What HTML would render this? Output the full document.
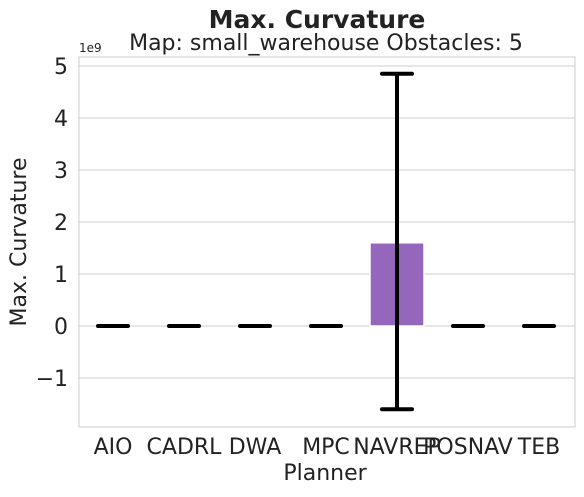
<!DOCTYPE html>
<html><head><meta charset="utf-8"><style>
body{margin:0;background:#fff;font-family:"Liberation Sans","DejaVu Sans",sans-serif;}
</style></head><body>
<svg width="584" height="492" xmlns="http://www.w3.org/2000/svg" id="chart" font-family="DejaVu Sans, Liberation Sans, sans-serif">
<text x="317" y="28" text-anchor="middle" font-size="25" font-weight="bold" fill="#222">Max. Curvature</text>
<text x="326" y="50" text-anchor="middle" font-size="22" fill="#222">Map: small_warehouse Obstacles: 5</text>
<text x="79" y="52" font-size="12" fill="#222">1e9</text>
<text x="325" y="480" text-anchor="middle" font-size="22" fill="#222">Planner</text>
<text transform="translate(26,242) rotate(-90)" text-anchor="middle" font-size="22" fill="#222">Max. Curvature</text>
<g id="grid"></g><g id="bars"></g><g id="err"></g><g id="ticks"></g>
<rect x="79" y="57" width="496" height="370" fill="none" stroke="#ccc" stroke-width="1"/>
</svg>
<script>
const categories=["AIO","CADRL","DWA","MPC","NAVREP","POSNAV","TEB"];
const values=[0,0,0,0,1.6,0,0];
const errLow=[0,0,0,0,-1.6,0,0];
const errHigh=[0,0,0,0,4.85,0,0];
const yTicks=[-1,0,1,2,3,4,5];
const yTickLabels=["\u22121","0","1","2","3","4","5"];
const NS="http://www.w3.org/2000/svg";
const x=i=>113+i*71;
const y=v=>326-v*52;
function mk(t,a,p){const e=document.createElementNS(NS,t);for(const k in a)e.setAttribute(k,a[k]);document.getElementById(p).appendChild(e);return e;}
yTicks.forEach((t,i)=>{
 const g=mk('line',{x1:79,x2:575,y1:y(t),y2:y(t),stroke:'#ccc','stroke-width':1},'grid');
 
 
 const l=mk('text',{x:68,y:y(t)+8,'text-anchor':'end','font-size':22,fill:'#222'},'ticks');
 l.textContent=yTickLabels[i];
 
 
});
categories.forEach((c,i)=>{
 const top=Math.min(y(values[i]),y(0)),h=Math.abs(y(values[i])-y(0));
 const b=mk('rect',{x:x(i)-27,y:top,width:54,height:h,fill:'#9467bd',stroke:'#fff','stroke-width':1.5},'bars');
 
 
 const e=mk('path',{d:`M${x(i)} ${y(errHigh[i])}V${y(errLow[i])}M${x(i)-15} ${y(errHigh[i])}h30M${x(i)-15} ${y(errLow[i])}h30`,stroke:'#000','stroke-width':4,fill:'none','stroke-linecap':'round'},'err');
 
 
 const t=mk('text',{x:x(i),y:454,'text-anchor':'middle','font-size':22,fill:'#222'},'ticks');
 t.textContent=c;
 
 
});
</script>
</body></html>
